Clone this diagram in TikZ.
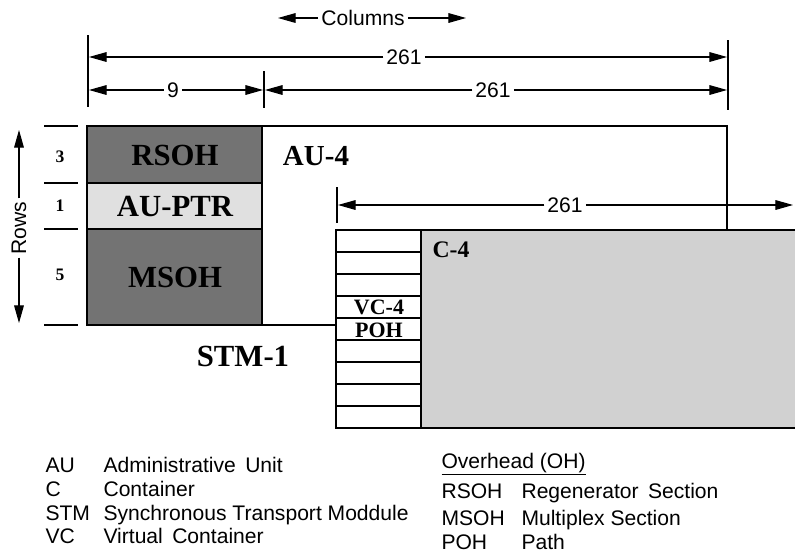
\documentclass[tikz,border=0pt]{standalone}
\usepackage{fontspec}
\setmainfont{Liberation Serif}
\setsansfont{Liberation Sans}
\usetikzlibrary{arrows.meta,positioning}

\begin{document}
\begin{tikzpicture}[x=0.02cm, y=-0.02cm, line width=0.6pt,
			tip/.style={-{Triangle[length=10pt, width=5.5pt]}},
			dimlbl/.style={font=\sffamily\fontsize{12}{14}\selectfont, inner sep=1.5pt},
			blk/.style={font=\bfseries\fontsize{17.5}{20}\selectfont, inner sep=0pt},
			poh/.style={font=\bfseries\fontsize{12.5}{14}\selectfont, inner sep=0pt},
			rowno/.style={font=\bfseries\fontsize{10}{12}\selectfont, inner sep=0pt},
			leg/.style={anchor=base west, inner sep=0pt, font=\sffamily\fontsize{12}{14}\selectfont}]
			\useasboundingbox (0,0) rectangle (795,555);
			% Spaltenpfeil oben
			\node[dimlbl] (cols) at (363,18) {Columns};
			\coordinate (colsL) at (278,18);
			\coordinate (colsR) at (466,18);
			\draw[tip] (cols.west) -- (colsL);
			\draw[tip] (cols.east) -- (colsR);
			% Masslinien 261 / 9 / 261
			\draw (88,35) -- (88,107);
			\draw (264,71) -- (264,108);
			\draw (728,40) -- (728,110);
			\node[dimlbl] (wAll) at (404,57) {261};
			\coordinate (wAllL) at (89,57);
			\coordinate (wAllR) at (727,57);
			\draw[tip] (wAll.west) -- (wAllL);
			\draw[tip] (wAll.east) -- (wAllR);
			\node[dimlbl] (wOH) at (173,90) {9};
			\coordinate (wOHL) at (89,90);
			\coordinate (wOHR) at (263,90);
			\draw[tip] (wOH.west) -- (wOHL);
			\draw[tip] (wOH.east) -- (wOHR);
			\node[dimlbl] (wPay) at (493,90) {261};
			\coordinate (wPayL) at (265,90);
			\coordinate (wPayR) at (727,90);
			\draw[tip] (wPay.west) -- (wPayL);
			\draw[tip] (wPay.east) -- (wPayR);
			% Zeilen
			\foreach \y in {126,183,229,325}
				\draw (44,\y) -- (78,\y);
			\node[rowno] (r3) at (60,157) {3};
			\node[rowno] (r1) at (60,206) {1};
			\node[rowno] (r5) at (60,275) {5};
			\node[dimlbl, rotate=90] (rows) at (19,228) {Rows};
			\coordinate (rowsT) at (19,130);
			\coordinate (rowsB) at (19,323);
			\draw[tip] (rows.east) -- (rowsT);
			\draw[tip] (rows.west) -- (rowsB);
			% STM-1 Rahmen mit AU-4
			\draw (87,126) rectangle (727,325);
			\draw[fill=black!55] (87,126) rectangle (262,183);
			\draw[fill=black!12] (87,183) rectangle (262,229);
			\draw[fill=black!55] (87,229) rectangle (262,325);
			\node[blk] (rsoh) at (175,155) {RSOH};
			\node[blk] (auptr) at (175,206) {AU-PTR};
			\node[blk] (msoh) at (175,277) {MSOH};
			\node[blk, font=\bfseries\fontsize{16.5}{19}\selectfont] (au4) at (316,156) {AU-4};
			\node[blk] (stm1) at (243,356) {STM-1};
			% VC-4 mit POH und C-4
			\draw (337,187) -- (337,223);
			\node[dimlbl] (wC4) at (565,205) {261};
			\coordinate (wC4L) at (338,205);
			\coordinate (wC4R) at (793,205);
			\draw[tip] (wC4.west) -- (wC4L);
			\draw[tip] (wC4.east) -- (wC4R);
			\fill[black!18] (421,230) rectangle (795,428);
			\draw (421,230) -- (795,230);
			\draw (421,428) -- (795,428);
			\draw[fill=white] (336,230) rectangle (421,428);
			\foreach \r in {1,...,8}
				\draw (336,230+22*\r) -- (421,230+22*\r);
			\draw (421,230) -- (421,428);
			\node[poh] (vc4) at (379,307) {VC-4};
			\node[poh] (pohl) at (379,330) {POH};
			\node[poh, font=\bfseries\fontsize{13.5}{15}\selectfont, anchor=west] (c4) at (432,250) {C-4};
			% Legende
			\node[leg] (lAU) at (45,472) {AU};
			\node[leg] (lC) at (45,496) {C};
			\node[leg] (lSTM) at (45,520) {STM};
			\node[leg] (lVC) at (45,543) {VC};
			\node[leg] (tAU) at (103,472) {Administrative\, Unit};
			\node[leg] (tC) at (103,496) {Container};
			\node[leg] (tSTM) at (103,520) {Synchronous Transport Moddule};
			\node[leg] (tVC) at (103,543) {Virtual\, Container};
			\node[leg] (lOH) at (441,468) {\underline{Overhead (OH)}};
			\node[leg] (lRS) at (441,498) {RSOH};
			\node[leg] (lMS) at (441,525) {MSOH};
			\node[leg] (lPO) at (441,549) {POH};
			\node[leg] (tRS) at (521,498) {Regenerator\, Section};
			\node[leg] (tMS) at (521,525) {Multiplex Section};
			\node[leg] (tPO) at (521,549) {Path};
		\end{tikzpicture}
\end{document}
